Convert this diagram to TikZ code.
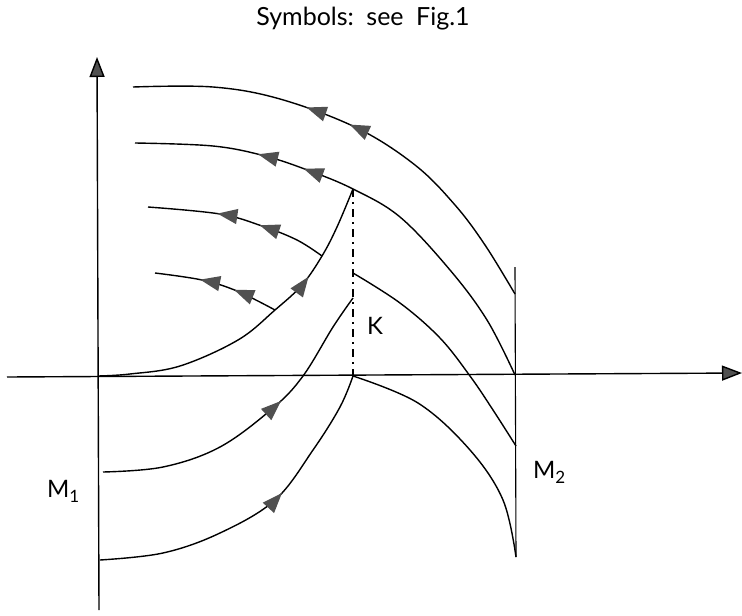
\documentclass[tikz,border=0pt]{standalone}
\usepackage{fontspec}
\setmainfont{Lato}
\usetikzlibrary{arrows.meta,decorations.markings}
\definecolor{arrgray}{HTML}{505050}
\tikzset{
  curve/.style={line width=1.4pt, black},
  axis/.style={line width=1.4pt, -{Triangle[length=20pt,width=15pt,fill=arrgray]}},
  fwd/.style={postaction={decorate,decoration={markings,mark=at position #1 with {\arrow{Triangle[length=20pt,width=15pt,color=arrgray]}}}}},
  bwd/.style={postaction={decorate,decoration={markings,mark=at position #1 with {\arrowreversed{Triangle[length=20pt,width=15pt,color=arrgray]}}}}},
  lbl/.style={font=\fontsize{24}{26}\selectfont, inner sep=0pt},
  kline/.style={line width=1.4pt, dash pattern=on 8pt off 5pt on 2pt off 5pt}
}
\newcommand{\subsc}[1]{\raisebox{-0.4ex}{\fontsize{17}{17}\selectfont #1}}
\begin{document}
\begin{tikzpicture}[x=1pt,y=-1pt]
\useasboundingbox (0,0) rectangle (742,616);
% key points
\coordinate (O) at (98,376);
\coordinate (Ytop) at (97,57);
\coordinate (Ybot) at (99,610);
\coordinate (Xl) at (7,377);
\coordinate (Xr) at (742,373);
\coordinate (Ktop) at (353,189);
\coordinate (Kbot) at (353,376);
\coordinate (M2top) at (515,267);
\coordinate (M2bot) at (516,557);
\coordinate (M2a) at (515,294);
\coordinate (M2x) at (515,375);
\coordinate (M2b) at (516,446);
\coordinate (Kmid) at (353,273);
\coordinate (Kr) at (353,298);
% axes
\draw[axis] (Ybot) -- (Ytop);
\draw[axis] (Xl) -- (Xr);
% M2 line and K line
\draw[line width=1.1pt] (M2top) -- (M2bot);
\draw[kline] (Ktop) -- (Kbot);
% upper curves (flow to the left)
\draw[curve, bwd=0.38, bwd=0.48] plot[smooth, tension=0.6] coordinates {(133,87) (213,87) (280,99) (357,128) (415,165) (455,205) (485,245) (M2a)};
\draw[curve, bwd=0.26, bwd=0.36] plot[smooth, tension=0.6] coordinates {(135,143) (213,146) (265,156) (310,171) (Ktop) (400,217) (450,270) (487,320) (M2x)};
\draw[curve, bwd=0.38, bwd=0.62] plot[smooth, tension=0.6] coordinates {(148,207) (220,214) (262,226) (297,240) (322,256)};
\draw[curve, bwd=0.36, bwd=0.64] plot[smooth, tension=0.6] coordinates {(155,273) (202,280) (237,291) (275,310)};
% rising curves (flow to the upper right)
\draw[curve, fwd=0.71] plot[smooth, tension=0.6] coordinates {(O) (130,374) (180,366) (238,340) (275,310) (302,285) (322,256) (337,227) (Ktop)};
\draw[curve, fwd=0.61] plot[smooth, tension=0.6] coordinates {(103,472) (163,467) (220,447) (273,408) (303,376) (333,327) (Kr)};
\draw[curve, fwd=0.59] plot[smooth, tension=0.6] coordinates {(100,560) (163,553) (220,533) (275,500) (313,450) (340,407) (Kbot)};
% descending curves to M2
\draw[curve] plot[smooth, tension=0.6] coordinates {(Kmid) (400,303) (440,338) (470,376) (493,410) (M2b)};
\draw[curve] plot[smooth, tension=0.6] coordinates {(Kbot) (418,403) (470,450) (503,500) (M2bot)};
% labels
\node[lbl, font=\fontsize{25}{27}\selectfont] (title) at (363,19) {Symbols:\hspace{0.5em}see\hspace{0.5em}Fig.1};
\node[lbl] (K) at (375,326) {K};
\node[lbl, anchor=west] (M1) at (47,491) {M\subsc{1}};
\node[lbl, anchor=west] (M2) at (533,472) {M\subsc{2}};
\end{tikzpicture}
\end{document}
